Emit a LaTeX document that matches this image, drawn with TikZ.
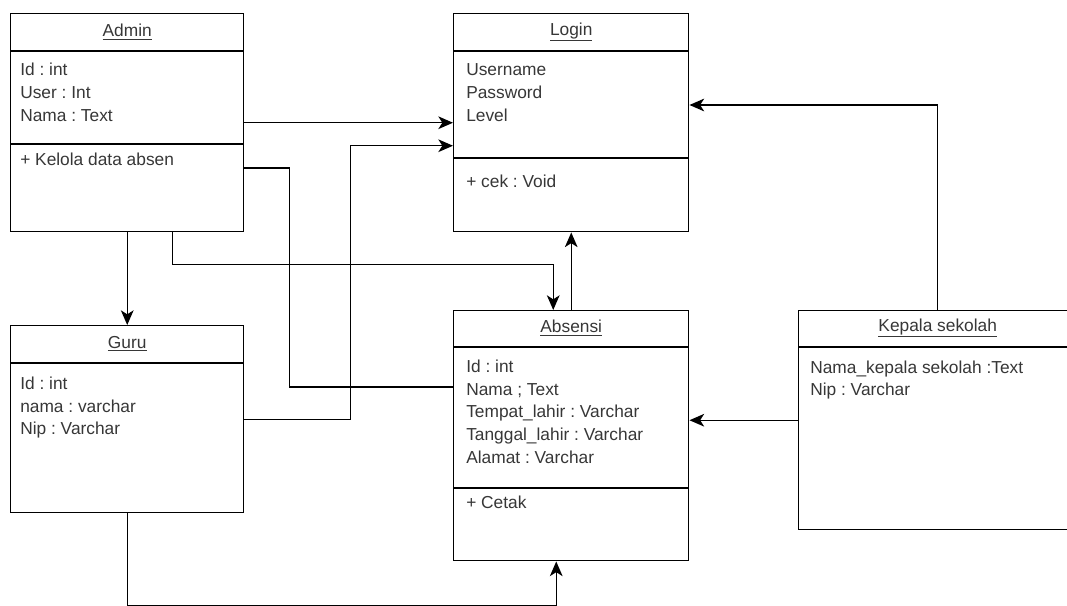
\documentclass[tikz,border=0pt]{standalone}
\usepackage{fontspec}
\setmainfont{Liberation Sans}
\usetikzlibrary{arrows.meta,calc}
\definecolor{txt}{RGB}{55,55,55}
\frenchspacing
\begin{document}
\begin{tikzpicture}[x=0.75pt,y=-0.75pt,
  cls/.style={draw, line width=1.1pt, anchor=north west, inner sep=0pt},
  ttl/.style={inner sep=0pt, font=\fontsize{13}{15}\selectfont, text=txt},
  attr/.style={anchor=west, inner sep=0pt, text height=9.4pt, text depth=2.7pt, font=\fontsize{13}{15}\selectfont, text=txt},
  conn/.style={line width=1.1pt},
  arr/.style={conn, -{Stealth[length=11pt,width=9.5pt,inset=3pt]}}]
\useasboundingbox (0,0) rectangle (1067,606);
\clip (0,0) rectangle (1067,606);
\fill[white] (0,0) rectangle (1067,606);

% class boxes
\node[cls, minimum width=174.75pt, minimum height=163.5pt] (admin) at (10,13) {};
\node[cls, minimum width=176.25pt, minimum height=163.5pt] (login) at (453,13) {};
\node[cls, minimum width=174.75pt, minimum height=140.25pt] (guru) at (10,325) {};
\node[cls, minimum width=176.25pt, minimum height=187.5pt] (absensi) at (453,310) {};
\node[cls, minimum width=208.5pt, minimum height=164.25pt] (kepala) at (798,310) {};

% compartment dividers
\draw[conn] ($(admin.north west)+(0,38)$) -- ($(admin.north east)+(0,38)$);
\draw[conn] ($(admin.north west)+(0,131)$) -- ($(admin.north east)+(0,131)$);
\draw[conn] ($(login.north west)+(0,38)$) -- ($(login.north east)+(0,38)$);
\draw[conn] ($(login.north west)+(0,145)$) -- ($(login.north east)+(0,145)$);
\draw[conn] ($(guru.north west)+(0,38)$) -- ($(guru.north east)+(0,38)$);
\draw[conn] ($(absensi.north west)+(0,37)$) -- ($(absensi.north east)+(0,37)$);
\draw[conn] ($(absensi.north west)+(0,178)$) -- ($(absensi.north east)+(0,178)$);
\draw[conn] ($(kepala.north west)+(0,37)$) -- ($(kepala.north east)+(0,37)$);

% titles
\node[ttl] (admin-t) at ($(admin.north)+(0,19)$) {\underline{Admin}};
\node[ttl] (login-t) at ($(login.north)+(0,19)$) {\underline{Login}};
\node[ttl] (guru-t) at ($(guru.north)+(0,19)$) {\underline{Guru}};
\node[ttl] (absensi-t) at ($(absensi.north)+(0,18)$) {\underline{Absensi}};
\node[ttl] (kepala-t) at ($(kepala.north)+(0,18)$) {\underline{Kepala sekolah}};

% attributes / operations
\node[attr] (admin-a1) at (20,71) {Id : int};
\node[attr] (admin-a2) at (20,94) {User : Int};
\node[attr] (admin-a3) at (20,117) {Nama : Text};
\node[attr] (admin-o1) at (20,161) {+ Kelola data absen};

\node[attr] (login-a1) at (466,71) {Username};
\node[attr] (login-a2) at (466,94) {Password};
\node[attr] (login-a3) at (466,117) {Level};
\node[attr] (login-o1) at (466,183) {+ cek : Void};

\node[attr] (guru-a1) at (20,385) {Id : int};
\node[attr] (guru-a2) at (20,408) {nama : varchar};
\node[attr] (guru-a3) at (20,430) {Nip : Varchar};

\node[attr] (absensi-a1) at (466,368) {Id : int};
\node[attr] (absensi-a2) at (466,391) {Nama ; Text};
\node[attr] (absensi-a3) at (466,413) {Tempat\_lahir : Varchar};
\node[attr] (absensi-a4) at (466,436) {Tanggal\_lahir : Varchar};
\node[attr] (absensi-a5) at (466,459) {Alamat : Varchar};
\node[attr] (absensi-o1) at (466,504) {+ Cetak};

\node[attr] (kepala-a1) at (810,369) {Nama\_kepala sekolah :Text};
\node[attr] (kepala-a2) at (810,391) {Nip : Varchar};

% connectors
\draw[arr] (admin.east) -- (login.west);
\draw[arr] (guru.east) -- ++(106,0) |- ($(login.west)+(0,23)$);
\draw[conn] ($(admin.north east)+(0,155)$) -- ++(45,0) |- ($(absensi.north west)+(0,77)$);
\draw[arr] ($(admin.south)+(45.5,0)$) -- ++(0,32) -| ($(absensi.north)+(-18,0)$);
\draw[arr] (admin.south) -- (guru.north);
\draw[arr] (absensi.north) -- (login.south);
\draw[arr] (kepala.north) |- ($(login.north east)+(0,92)$);
\draw[arr] (kepala.west) -- (kepala.west -| absensi.east);
\draw[arr] (guru.south) -- ++(0,92) -| ($(absensi.south)+(-15,0)$);
\end{tikzpicture}
\end{document}
